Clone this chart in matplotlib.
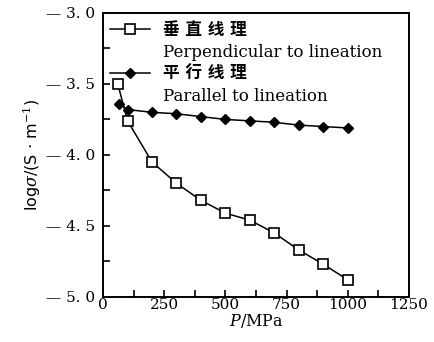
import numpy as np
import matplotlib
matplotlib.use("Agg")
import matplotlib.pyplot as plt
from matplotlib.lines import Line2D
from matplotlib.ticker import MultipleLocator

plt.rcParams['font.family'] = ['DejaVu Serif', 'Noto Sans CJK SC']
plt.rcParams['mathtext.fontset'] = 'dejavuserif'

# Data
p_perp = [60, 100, 200, 300, 400, 500, 600, 700, 800, 900, 1000]
log_perp = [-3.50, -3.76, -4.05, -4.20, -4.32, -4.41, -4.46, -4.55, -4.67, -4.77, -4.88]
p_par = [65, 100, 200, 300, 400, 500, 600, 700, 800, 900, 1000]
log_par = [-3.64, -3.68, -3.70, -3.71, -3.73, -3.75, -3.76, -3.77, -3.79, -3.80, -3.81]

x_ticks = [0, 250, 500, 750, 1000, 1250]
y_ticks = [-5.0, -4.5, -4.0, -3.5, -3.0]
y_ticklabels = ["\u2014 5. 0", "\u2014 4. 5", "\u2014 4. 0", "\u2014 3. 5", "\u2014 3. 0"]
labels = ["垂 直 线 理", "Perpendicular to lineation",
          "平 行 线 理", "Parallel to lineation"]

fig = plt.figure(figsize=(4.35, 3.42), dpi=100)
ax = fig.add_axes([0.237, 0.132, 0.703, 0.830])

ax.plot(p_perp, log_perp, color="black", lw=1.1, marker="s", ms=7,
        mfc="white", mec="black", mew=1.2)
ax.plot(p_par, log_par, color="black", lw=1.1, marker="D", ms=5,
        mfc="black", mec="black")

ax.set_xlim(0, 1250)
ax.set_ylim(-5.0, -3.0)
ax.set_xticks(x_ticks)
ax.set_yticks(y_ticks)
ax.set_yticklabels(y_ticklabels)
ax.xaxis.set_minor_locator(MultipleLocator(125))
ax.yaxis.set_minor_locator(MultipleLocator(0.25))
ax.tick_params(which="both", direction="in", length=5, width=1.2,
               labelsize=11, top=False, right=False)
ax.tick_params(axis="x", pad=1)
ax.tick_params(axis="y", pad=6)
for s in ax.spines.values():
    s.set_linewidth(1.4)

ax.set_xlabel(r"$P$/MPa", fontsize=11.5, labelpad=0)
ax.set_ylabel(r"log$\sigma$/(S $\cdot$ m$^{-1}$)", fontsize=11.5, labelpad=2,
              family="DejaVu Sans")

# legend: one row per text line, handles only on the Chinese rows
blank = Line2D([], [], color="none")
h1 = Line2D([], [], color="black", lw=1.1, marker="s", ms=7, mfc="white", mew=1.2)
h2 = Line2D([], [], color="black", lw=1.1, marker="D", ms=5, mfc="black")
leg = ax.legend([h1, blank, h2, blank], labels, loc="upper left",
                bbox_to_anchor=(-0.01, 1.005), frameon=False, fontsize=12,
                handlelength=2.4, handletextpad=0.75, labelspacing=0.3,
                borderaxespad=0.2)
for i in (0, 2):
    leg.get_texts()[i].set_fontsize(12)
    leg.get_texts()[i].set_fontweight("bold")

fig.savefig("out.png", dpi=100)
